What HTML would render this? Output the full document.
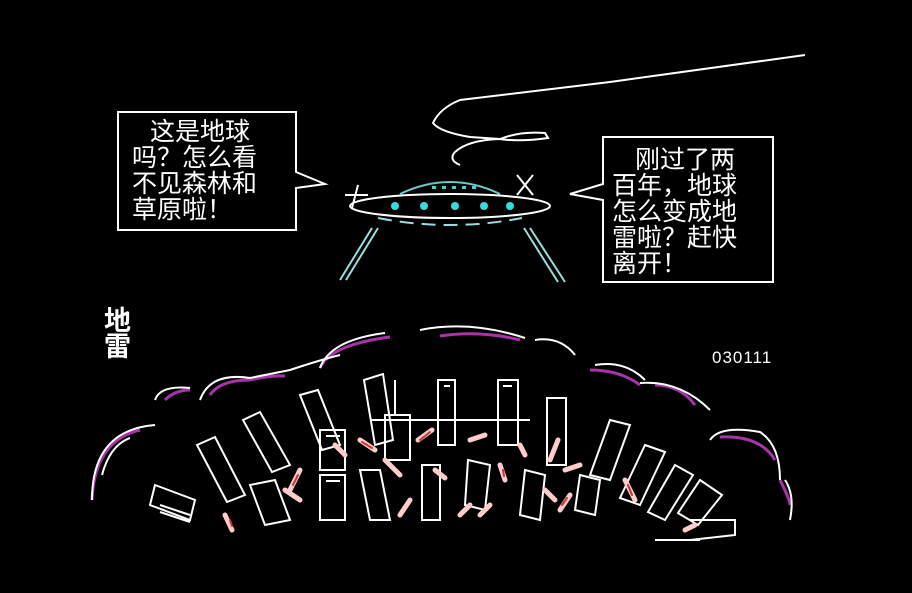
<!DOCTYPE html>
<html><head><meta charset="utf-8"><style>
body{margin:0;background:#000;width:912px;height:593px;overflow:hidden}
svg{display:block}
text{font-family:"Liberation Sans","WenQuanYi Zen Hei","Noto Sans CJK SC",sans-serif;fill:#fff}
</style></head><body>
<svg width="912" height="593" viewBox="0 0 912 593" xmlns="http://www.w3.org/2000/svg">
<rect width="912" height="593" fill="#000"/>
<g fill="none" stroke="#fff" stroke-width="2">
<!-- trail -->
<path d="M805,55 L610,82 L460,100 Q440,108 433,123 Q440,132 470,137 L500,139 Q520,131 545,133 L548,138 Q520,142 500,139 Q468,140 455,152 Q448,160 460,165"/>
<!-- left bubble -->
<path d="M118,112 H296 V172 L325,184 L296,188 V230 H118 Z"/>
<!-- right bubble -->
<path d="M603,137 H773 V282 H603 V200 L570,194 L603,184 Z"/>
</g>
<!-- UFO -->
<g fill="none" stroke-width="2">
<ellipse cx="450" cy="206" rx="100" ry="12" stroke="#fff"/>
<path d="M400,194 Q450,170 500,194" stroke="#6cc"/>
<path d="M378,218 Q450,232 522,218" stroke="#9dd" stroke-dasharray="14 8"/>
<path d="M372,228 L340,280 M378,228 L346,280" stroke="#9dd"/>
<path d="M530,228 L565,282 M524,228 L558,282" stroke="#9dd"/>
<path d="M345,195 L368,195 M358,185 L352,208 M517,175 L533,195 M533,175 L517,195" stroke="#fff"/>
</g>
<g fill="#3dd">
<circle cx="395" cy="206" r="4"/><circle cx="424" cy="206" r="4"/><circle cx="455" cy="206" r="4"/><circle cx="484" cy="206" r="4"/><circle cx="510" cy="206" r="4"/>
</g>
<g fill="#5cc"><rect x="432" y="186" width="4" height="3"/><rect x="442" y="186" width="4" height="3"/><rect x="452" y="186" width="4" height="3"/><rect x="462" y="186" width="4" height="3"/><rect x="472" y="186" width="4" height="3"/></g>
<!-- text -->
<g font-size="25">
<text x="150" y="140">这是地球</text>
<text x="132" y="166">吗？怎么看</text>
<text x="132" y="192">不见森林和</text>
<text x="132" y="218">草原啦！</text>
<text x="635" y="168">刚过了两</text>
<text x="612" y="194">百年，地球</text>
<text x="612" y="220">怎么变成地</text>
<text x="612" y="246">雷啦？赶快</text>
<text x="612" y="272">离开！</text>
</g>
<text x="104" y="330" font-size="27" font-weight="bold">地</text>
<text x="104" y="356" font-size="27" font-weight="bold">雷</text>
<text x="712" y="363" font-size="17" font-family="Liberation Mono,monospace" letter-spacing="1">030111</text>
<!-- clouds -->
<g fill="none" stroke-width="3">
<path d="M92,500 Q95,440 140,430" stroke="#a3a"/>
<path d="M165,400 Q175,390 190,390" stroke="#a3a"/>
<path d="M210,395 Q220,380 250,380" stroke="#a3a"/>
<path d="M250,380 Q270,375 285,376" stroke="#a3a"/>
<path d="M320,368 Q330,345 390,337" stroke="#a3a"/>
<path d="M440,336 Q480,330 520,340" stroke="#a3a"/>
<path d="M590,370 Q620,370 640,385" stroke="#a3a"/>
<path d="M655,385 Q680,385 695,405" stroke="#a3a"/>
<path d="M720,437 Q760,435 775,460" stroke="#a3a"/>
<path d="M780,480 Q790,500 790,505" stroke="#a3a"/>
</g>
<g fill="none" stroke="#fff" stroke-width="2">
<path d="M92,500 Q92,430 155,425 M102,475 Q110,445 130,438 M155,400 Q160,385 190,388 M200,400 Q210,372 250,378 L290,370 M290,370 Q320,360 340,355 M320,368 Q330,340 385,333 M420,330 Q470,320 525,338 M535,340 Q560,336 575,355 M595,365 Q625,360 645,380 M640,383 Q680,380 710,410 M710,440 Q720,425 760,432 Q780,445 780,480 M785,480 Q795,495 790,520"/>
</g>
<!-- buildings -->
<g fill="none" stroke="#fff" stroke-width="2">
<path d="M364,380 L383,374 L393,440 L375,445 Z"/>
<path d="M438,380 L455,380 L455,445 L438,445 Z M444,386 L450,386"/>
<path d="M498,380 L518,380 L518,445 L498,445 Z M503,386 L512,386"/>
<path d="M547,398 L566,398 L566,465 L547,465 Z"/>
<path d="M300,395 L318,390 L340,445 L322,450 Z"/>
<path d="M243,420 L260,412 L290,465 L272,472 Z"/>
<path d="M197,445 L215,437 L245,495 L227,502 Z"/>
<path d="M320,430 L345,430 L345,470 L320,470 Z M326,436 L340,436"/>
<path d="M385,415 L410,415 L410,460 L385,460 Z"/>
<path d="M395,415 L395,380 M440,420 L530,420 M370,420 L440,420"/>
<path d="M610,420 L630,425 L610,480 L590,475 Z"/>
<path d="M645,445 L665,452 L640,505 L620,498 Z"/>
<path d="M675,465 L693,475 L665,520 L648,512 Z"/>
<path d="M700,480 L722,495 L698,525 L678,513 Z"/>
<path d="M155,485 L195,500 L190,520 L150,505 Z M160,505 L190,515 M160,512 L190,522"/>
<path d="M250,485 L275,480 L290,520 L265,525 Z"/>
<path d="M320,475 L345,475 L345,520 L320,520 Z M326,481 L340,481"/>
<path d="M360,470 L380,470 L390,520 L370,520 Z"/>
<path d="M422,465 L440,465 L440,520 L422,520 Z"/>
<path d="M468,460 L490,465 L485,510 L465,505 Z"/>
<path d="M525,470 L545,475 L540,520 L520,515 Z"/>
<path d="M580,475 L600,480 L595,515 L575,510 Z"/>
<path d="M655,540 L700,540 M690,520 L735,520 L735,535 L690,540"/>
</g>
<g stroke="#fcc" stroke-width="5" stroke-linecap="round" fill="none">
<path d="M300,470 L290,490 M285,490 L300,500 M225,515 L232,530 M335,445 L345,455 M360,440 L375,450 M385,460 L400,475 M418,440 L432,430 M470,440 L485,435 M435,470 L445,478 M500,465 L505,480 M520,445 L525,455 M558,440 L550,460 M565,470 L580,465 M545,490 L555,500 M560,510 L570,495 M625,480 L635,500 M490,505 L480,515 M410,500 L400,515 M460,515 L470,505 M685,530 L695,525"/>
</g>
<g stroke="#c33" stroke-width="2" stroke-linecap="round" fill="none">
<path d="M298,475 L293,485 M230,520 L232,526 M362,442 L372,448 M420,440 L430,432 M503,470 L504,476 M628,485 L632,495 M562,505 L567,498"/>
</g>
</svg>
</body></html>
